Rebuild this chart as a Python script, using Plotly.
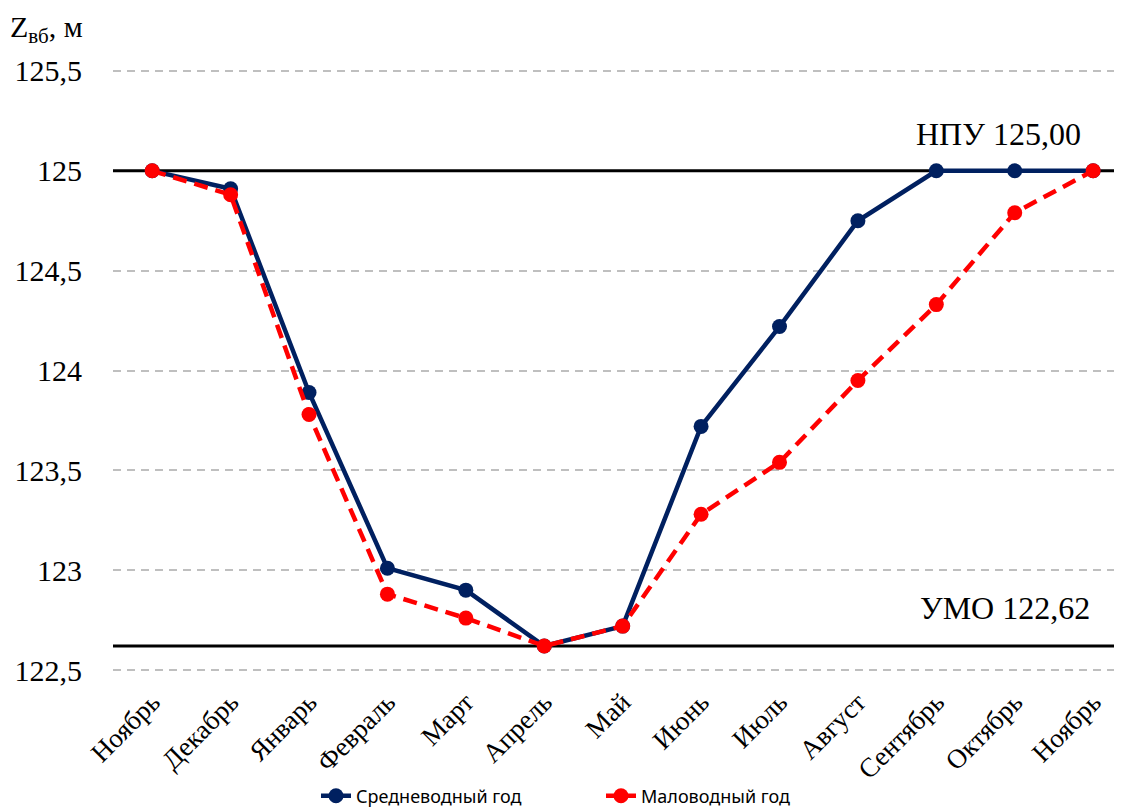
import plotly.graph_objects as go

months = ["Ноябрь", "Декабрь", "Январь", "Февраль", "Март", "Апрель", "Май",
          "Июнь", "Июль", "Август", "Сентябрь", "Октябрь", "Ноябрь"]
avg_year = [125.00, 124.91, 123.89, 123.01, 122.90, 122.62, 122.72,
            123.72, 124.22, 124.75, 125.00, 125.00, 125.00]
dry_year = [125.00, 124.88, 123.78, 122.88, 122.76, 122.62, 122.72,
            123.28, 123.54, 123.95, 124.33, 124.79, 125.00]
npu = 125.00
umo = 122.62
y_ticks = [122.5, 123, 123.5, 124, 124.5, 125, 125.5]
y_tick_text = ["122,5", "123", "123,5", "124", "124,5", "125", "125,5"]

x = list(range(len(months)))
x_range = [-0.5, 12.47]
serif = "Liberation Serif, Times New Roman, serif"

fig = go.Figure()
for lvl in (npu, umo):
    fig.add_trace(go.Scatter(
        x=x_range, y=[lvl, lvl], mode="lines", showlegend=False, hoverinfo="skip",
        line=dict(color="black", width=3), cliponaxis=False,
    ))
fig.add_trace(go.Scatter(
    x=x, y=avg_year, mode="lines+markers", name="Средневодный год",
    line=dict(color="#002060", width=4.5),
    marker=dict(color="#002060", size=15),
))
fig.add_trace(go.Scatter(
    x=x, y=dry_year, mode="lines+markers", name="Маловодный год",
    line=dict(color="#FF0000", width=4.5, dash="14px,8px"),
    marker=dict(color="#FF0000", size=15),
))

fig.add_annotation(x=1.0, xref="paper", y=npu, yref="y", yshift=37,
                   text="НПУ " + f"{npu:.2f}".replace(".", ","), showarrow=False,
                   xanchor="right", xshift=-47,
                   font=dict(family=serif, size=32, color="black"))
fig.add_annotation(x=1.0, xref="paper", y=umo, yref="y", yshift=38,
                   text="УМО " + f"{umo:.2f}".replace(".", ","), showarrow=False,
                   xanchor="right", xshift=-38,
                   font=dict(family=serif, size=32, color="black"))
fig.add_annotation(x=-0.0932, xref="paper", y=1, yref="paper", yshift=11, xshift=-10,
                   text="Z<sub>вб</sub>, м", showarrow=False, xanchor="left", yanchor="bottom",
                   font=dict(family=serif, size=30, color="black"))

fig.update_layout(
    width=1122, height=807,
    margin=dict(l=105, r=0, t=53, b=131),
    paper_bgcolor="white", plot_bgcolor="white",
    showlegend=True,
    legend=dict(orientation="h", x=0.1996, xanchor="left",
                y=-(795 - 679) / 619, yanchor="middle",
                font=dict(family="Noto Sans, Open Sans, sans-serif", size=18, color="black"),
                entrywidth=240, entrywidthmode="pixels"),
    xaxis=dict(range=x_range, tickmode="array", tickvals=x, ticktext=months,
               tickangle=-45, showgrid=False, zeroline=False, showline=False,
               automargin=False,
               tickfont=dict(family=serif, size=27, color="black")),
    yaxis=dict(range=[122.45, 125.55], tickmode="array", tickvals=y_ticks,
               ticktext=y_tick_text, showgrid=True, gridcolor="#BFBFBF", griddash="8px,6px",
               gridwidth=1.5, zeroline=False, showline=False, ticks="",
               ticklabelstandoff=30, automargin=False,
               tickfont=dict(family=serif, size=30, color="black")),
)

fig.write_html("out.html")
